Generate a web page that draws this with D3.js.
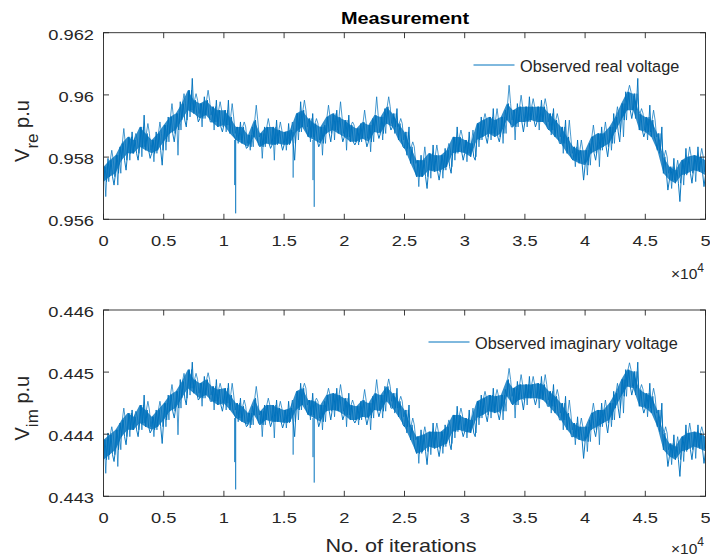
<!DOCTYPE html>
<html>
<head>
<meta charset="utf-8">
<script src="https://cdn.jsdelivr.net/npm/d3@7"></script>
<style>
  html, body { margin: 0; padding: 0; background: #fff; }
  svg { display: block; }
  text { font-family: "Liberation Sans", Arial, Helvetica, sans-serif; }
</style>
</head>
<body>
<svg id="chart" width="710" height="559"></svg>
<script>
// ---------------- DATA ----------------
const iterStep = 500;               // samples every 500 iterations, 0..50000
const xTickValues = [0, 5000, 10000, 15000, 20000, 25000, 30000, 35000, 40000, 45000, 50000];
const reTickValues = [0.956, 0.958, 0.96, 0.962];
const imTickValues = [0.443, 0.444, 0.445, 0.446];

// Real voltage: dense core band (lo/hi) and outer noise extremes (lo/hi)
const reCoreHi = [0.95769,0.95790,0.95806,0.95844,0.95865,0.95855,0.95897,0.95876,0.95855,0.95876,
0.95903,0.95929,0.95940,0.95972,0.96015,0.95983,0.95972,0.95983,0.95962,0.95951,
0.95951,0.95929,0.95897,0.95897,0.95871,0.95919,0.95876,0.95897,0.95897,0.95887,
0.95881,0.95887,0.95940,0.95951,0.95924,0.95908,0.95897,0.95929,0.95940,0.95929,
0.95919,0.95903,0.95892,0.95913,0.95903,0.95935,0.95929,0.95962,0.95940,0.95908,
0.95881,0.95833,0.95790,0.95790,0.95812,0.95806,0.95806,0.95822,0.95865,0.95865,
0.95855,0.95844,0.95908,0.95919,0.95929,0.95919,0.95929,0.95972,0.95951,0.95962,
0.95962,0.95962,0.95962,0.95962,0.95940,0.95919,0.95897,0.95865,0.95833,0.95822,
0.95822,0.95865,0.95876,0.95876,0.95897,0.95929,0.95972,0.96010,0.96004,0.95940,
0.95929,0.95919,0.95876,0.95801,0.95769,0.95758,0.95790,0.95801,0.95806,0.95801,
0.95790];
const reCoreLo = [0.95721,0.95737,0.95748,0.95790,0.95812,0.95812,0.95833,0.95822,0.95812,0.95822,
0.95849,0.95876,0.95887,0.95919,0.95951,0.95940,0.95924,0.95935,0.95913,0.95897,
0.95903,0.95876,0.95855,0.95844,0.95833,0.95865,0.95833,0.95844,0.95839,0.95844,
0.95839,0.95844,0.95881,0.95897,0.95865,0.95855,0.95844,0.95876,0.95887,0.95876,
0.95865,0.95849,0.95849,0.95860,0.95849,0.95881,0.95876,0.95908,0.95897,0.95855,
0.95828,0.95780,0.95737,0.95737,0.95758,0.95753,0.95758,0.95769,0.95812,0.95817,
0.95812,0.95801,0.95855,0.95865,0.95876,0.95865,0.95876,0.95919,0.95897,0.95913,
0.95913,0.95919,0.95913,0.95913,0.95887,0.95865,0.95844,0.95812,0.95790,0.95780,
0.95774,0.95812,0.95822,0.95833,0.95844,0.95881,0.95919,0.95951,0.95951,0.95887,
0.95881,0.95865,0.95822,0.95748,0.95726,0.95716,0.95742,0.95748,0.95758,0.95753,
0.95742];
const reExtHi = [0.95796,0.95822,0.95833,0.95892,0.95881,0.95876,0.95935,0.95908,0.95881,0.95913,
0.95929,0.95972,0.95978,0.96004,0.96053,0.96004,0.95994,0.96015,0.95983,0.95978,
0.95983,0.95972,0.95913,0.95913,0.95897,0.95967,0.95897,0.95924,0.95919,0.95913,
0.95908,0.95913,0.95978,0.95983,0.95940,0.95924,0.95903,0.95967,0.95951,0.95978,
0.95935,0.95913,0.95908,0.95951,0.95924,0.95994,0.95956,0.95994,0.95956,0.95924,
0.95897,0.95849,0.95806,0.95833,0.95839,0.95839,0.95828,0.95844,0.95897,0.95887,
0.95881,0.95887,0.95929,0.95940,0.95956,0.95956,0.95951,0.96031,0.95972,0.95999,
0.95994,0.95988,0.95983,0.95988,0.95956,0.95940,0.95919,0.95919,0.95855,0.95855,
0.95844,0.95903,0.95897,0.95913,0.95940,0.95962,0.96010,0.96031,0.96053,0.95956,
0.95967,0.95951,0.95897,0.95822,0.95796,0.95790,0.95828,0.95833,0.95833,0.95828,
0.95812];
const reExtLo = [0.95673,0.95710,0.95710,0.95758,0.95790,0.95790,0.95801,0.95796,0.95785,0.95774,
0.95822,0.95849,0.95806,0.95897,0.95929,0.95913,0.95897,0.95913,0.95887,0.95881,
0.95881,0.95865,0.95844,0.95828,0.95822,0.95839,0.95796,0.95828,0.95790,0.95822,
0.95822,0.95790,0.95855,0.95881,0.95849,0.95833,0.95806,0.95849,0.95855,0.95849,
0.95822,0.95839,0.95839,0.95833,0.95817,0.95860,0.95855,0.95887,0.95876,0.95833,
0.95806,0.95758,0.95705,0.95699,0.95732,0.95726,0.95732,0.95748,0.95790,0.95790,
0.95785,0.95790,0.95833,0.95844,0.95855,0.95849,0.95844,0.95897,0.95855,0.95881,
0.95897,0.95897,0.95887,0.95892,0.95871,0.95844,0.95812,0.95796,0.95769,0.95726,
0.95742,0.95790,0.95769,0.95801,0.95822,0.95849,0.95865,0.95924,0.95924,0.95865,
0.95855,0.95849,0.95812,0.95694,0.95699,0.95657,0.95710,0.95716,0.95721,0.95705,
0.95716];
const reSpikeIter = [10900, 10980, 15750, 17400, 17500];
const reSpikeVal  = [0.95710, 0.95619, 0.95734, 0.95726, 0.95640];

// Imaginary voltage
const imCoreHi = [0.44391,0.44399,0.44407,0.44423,0.44434,0.44428,0.44447,0.44439,0.44428,0.44439,
0.44450,0.44463,0.44469,0.44485,0.44504,0.44488,0.44482,0.44488,0.44477,0.44472,
0.44474,0.44463,0.44450,0.44445,0.44434,0.44458,0.44437,0.44447,0.44447,0.44442,
0.44439,0.44442,0.44469,0.44474,0.44455,0.44453,0.44447,0.44463,0.44466,0.44463,
0.44458,0.44447,0.44445,0.44455,0.44450,0.44466,0.44463,0.44477,0.44466,0.44453,
0.44439,0.44415,0.44396,0.44399,0.44404,0.44404,0.44404,0.44412,0.44431,0.44431,
0.44426,0.44423,0.44453,0.44458,0.44463,0.44461,0.44463,0.44488,0.44474,0.44480,
0.44480,0.44480,0.44482,0.44480,0.44469,0.44461,0.44450,0.44434,0.44418,0.44412,
0.44412,0.44434,0.44439,0.44439,0.44450,0.44466,0.44488,0.44504,0.44501,0.44472,
0.44466,0.44461,0.44439,0.44402,0.44385,0.44380,0.44396,0.44402,0.44404,0.44402,
0.44396];
const imCoreLo = [0.44359,0.44367,0.44375,0.44396,0.44407,0.44407,0.44418,0.44412,0.44407,0.44412,
0.44423,0.44437,0.44442,0.44458,0.44474,0.44466,0.44458,0.44463,0.44453,0.44447,
0.44450,0.44439,0.44426,0.44420,0.44415,0.44431,0.44415,0.44423,0.44420,0.44420,
0.44418,0.44420,0.44439,0.44447,0.44431,0.44426,0.44420,0.44437,0.44439,0.44437,
0.44431,0.44423,0.44423,0.44428,0.44426,0.44439,0.44437,0.44453,0.44442,0.44428,
0.44412,0.44391,0.44369,0.44372,0.44380,0.44377,0.44380,0.44385,0.44404,0.44407,
0.44404,0.44402,0.44426,0.44431,0.44437,0.44434,0.44437,0.44461,0.44447,0.44455,
0.44458,0.44458,0.44458,0.44455,0.44445,0.44434,0.44423,0.44407,0.44396,0.44391,
0.44388,0.44407,0.44412,0.44418,0.44423,0.44442,0.44461,0.44477,0.44474,0.44445,
0.44442,0.44434,0.44412,0.44375,0.44364,0.44359,0.44372,0.44375,0.44380,0.44377,
0.44372];
const imExtHi = [0.44402,0.44412,0.44418,0.44442,0.44439,0.44437,0.44463,0.44453,0.44439,0.44453,
0.44463,0.44480,0.44488,0.44498,0.44516,0.44498,0.44493,0.44499,0.44488,0.44482,
0.44482,0.44482,0.44458,0.44455,0.44445,0.44477,0.44447,0.44458,0.44455,0.44453,
0.44453,0.44455,0.44482,0.44482,0.44466,0.44458,0.44453,0.44474,0.44474,0.44480,
0.44466,0.44455,0.44453,0.44472,0.44461,0.44488,0.44477,0.44489,0.44474,0.44461,
0.44447,0.44426,0.44407,0.44412,0.44418,0.44418,0.44415,0.44423,0.44445,0.44442,
0.44439,0.44442,0.44463,0.44469,0.44474,0.44472,0.44472,0.44506,0.44485,0.44496,
0.44493,0.44493,0.44493,0.44496,0.44480,0.44472,0.44461,0.44455,0.44428,0.44426,
0.44423,0.44450,0.44450,0.44455,0.44469,0.44482,0.44504,0.44515,0.44516,0.44480,
0.44482,0.44474,0.44450,0.44412,0.44399,0.44396,0.44415,0.44418,0.44415,0.44412,
0.44407];
const imExtLo = [0.44337,0.44356,0.44348,0.44383,0.44396,0.44396,0.44407,0.44402,0.44396,0.44385,
0.44412,0.44426,0.44399,0.44447,0.44463,0.44455,0.44445,0.44453,0.44439,0.44437,
0.44439,0.44431,0.44420,0.44412,0.44410,0.44418,0.44396,0.44412,0.44394,0.44410,
0.44410,0.44396,0.44423,0.44437,0.44423,0.44412,0.44407,0.44423,0.44428,0.44423,
0.44412,0.44418,0.44415,0.44415,0.44407,0.44428,0.44426,0.44442,0.44434,0.44415,
0.44402,0.44377,0.44353,0.44351,0.44367,0.44364,0.44369,0.44375,0.44394,0.44396,
0.44394,0.44396,0.44415,0.44420,0.44426,0.44423,0.44423,0.44450,0.44426,0.44439,
0.44447,0.44447,0.44442,0.44445,0.44434,0.44423,0.44407,0.44396,0.44383,0.44361,
0.44372,0.44396,0.44383,0.44402,0.44412,0.44426,0.44434,0.44463,0.44463,0.44434,
0.44428,0.44426,0.44404,0.44348,0.44351,0.44332,0.44356,0.44359,0.44361,0.44353,
0.44359];
const imSpikeIter = [10900, 10980, 15750, 17400, 17500];
const imSpikeVal  = [0.44355, 0.44311, 0.44367, 0.44363, 0.44322];

// ---------------- DRAWING ----------------
const svg = d3.select("#chart");
const BLUE = "#0072BD", AX = "#262626";
const left = 103.5, right = 705.5;
const x = d3.scaleLinear().domain([0, 50000]).range([left, right]);

function stretchedText(g, px, py, str, size, anchor, sx, weight) {
  const t = g.append("text")
    .attr("transform", `translate(${px},${py}) scale(${sx},1)`)
    .attr("text-anchor", anchor)
    .attr("font-size", size)
    .attr("fill", AX)
    .text(str);
  if (weight) t.attr("font-weight", weight).attr("fill", "#000");
  return t;
}

function panel(cfg) {
  const y = d3.scaleLinear().domain(cfg.domain).range([cfg.bottom, cfg.top]);
  const g = svg.append("g");
  const clipId = "clip" + cfg.id;
  svg.append("clipPath").attr("id", clipId).append("rect")
    .attr("x", left).attr("y", cfg.top).attr("width", right - left).attr("height", cfg.bottom - cfg.top);

  const data = g.append("g").attr("clip-path", `url(#${clipId})`);
  const idx = d3.range(cfg.coreHi.length);

  // core fill
  data.append("path")
    .attr("d", d3.area().x(i => x(i * iterStep)).y0(i => y(cfg.coreLo[i])).y1(i => y(cfg.coreHi[i]))(idx))
    .attr("fill", BLUE).attr("fill-opacity", 0.8);

  // the measured signal: dense oscillation inside the core band, with
  // excursions to the read extremes (alternately up and down)
  const pts = [];
  const q = iterStep / 4;
  idx.forEach(i => {
    const x0 = i * iterStep;
    pts.push([x0, cfg.coreLo[i]]);
    pts.push([x0 + q, cfg.coreHi[i]]);
    pts.push([x0 + 2 * q, cfg.coreLo[i]]);
    pts.push([x0 + 3 * q, i % 2 === 0 ? cfg.extHi[i] : cfg.extLo[i]]);
  });
  data.append("path")
    .attr("d", d3.line().x(d => x(d[0])).y(d => y(d[1]))(pts))
    .attr("fill", "none").attr("stroke", BLUE).attr("stroke-width", 0.95).attr("stroke-linejoin", "bevel");

  // second pass: the opposite extremes, offset
  const pts2 = [];
  idx.forEach(i => {
    const x0 = i * iterStep + iterStep / 8;
    pts2.push([x0, cfg.coreHi[i]]);
    pts2.push([x0 + q, i % 2 === 0 ? cfg.extLo[i] : cfg.extHi[i]]);
    pts2.push([x0 + 2 * q, cfg.coreHi[i]]);
    pts2.push([x0 + 3 * q, cfg.coreLo[i]]);
  });
  data.append("path")
    .attr("d", d3.line().x(d => x(d[0])).y(d => y(d[1]))(pts2))
    .attr("fill", "none").attr("stroke", BLUE).attr("stroke-width", 0.8).attr("stroke-opacity", 0.9)
    .attr("stroke-linejoin", "bevel");

  // downward spikes
  cfg.spikeIter.forEach((it, j) => {
    const k = Math.round(it / iterStep);
    data.append("path")
      .attr("d", d3.line()([[x(it), y(cfg.coreLo[k])], [x(it), y(cfg.spikeVal[j])]]))
      .attr("stroke", BLUE).attr("stroke-width", 1).attr("fill", "none");
  });

  // box
  g.append("rect").attr("x", left).attr("y", cfg.top).attr("width", right - left).attr("height", cfg.bottom - cfg.top)
    .attr("fill", "none").attr("stroke", AX).attr("stroke-width", 0.9);

  // ticks (inward on all sides)
  const tl = 5.5;
  xTickValues.forEach(t => {
    const px = x(t);
    g.append("line").attr("x1", px).attr("x2", px).attr("y1", cfg.bottom).attr("y2", cfg.bottom - tl).attr("stroke", AX).attr("stroke-width", 0.9);
    g.append("line").attr("x1", px).attr("x2", px).attr("y1", cfg.top).attr("y2", cfg.top + tl).attr("stroke", AX).attr("stroke-width", 0.9);
    stretchedText(g, px, cfg.bottom + 27, String(t / 1e4), 15.5, "middle", 1.18);
  });
  cfg.ticks.forEach(t => {
    const py = y(t);
    g.append("line").attr("x1", left).attr("x2", left + tl).attr("y1", py).attr("y2", py).attr("stroke", AX).attr("stroke-width", 0.9);
    g.append("line").attr("x1", right).attr("x2", right - tl).attr("y1", py).attr("y2", py).attr("stroke", AX).attr("stroke-width", 0.9);
    stretchedText(g, 94, py + 7, String(+t.toFixed(3)), 15.5, "end", 1.18);
  });

  // x10^4 exponent
  const ex = g.append("text").attr("x", 704).attr("y", cfg.expY).attr("text-anchor", "end")
    .attr("font-size", 15.5).attr("fill", AX);
  ex.append("tspan").text("\u00D710");
  ex.append("tspan").attr("font-size", 12).attr("dy", -7.5).text("4");

  // y label with subscript
  const cy = (cfg.top + cfg.bottom) / 2 + 5;
  const yl = g.append("text").attr("transform", `translate(28.5,${cy}) rotate(-90)`)
    .attr("text-anchor", "middle").attr("font-size", 20).attr("fill", AX);
  yl.append("tspan").text("V");
  yl.append("tspan").attr("font-size", 17).attr("dy", 9).text(cfg.sub);
  yl.append("tspan").attr("dy", -9).text(" p.u");

  // legend
  g.append("line").attr("x1", cfg.legX).attr("x2", cfg.legX + 41).attr("y1", cfg.legY).attr("y2", cfg.legY)
    .attr("stroke", BLUE).attr("stroke-width", 1);
  g.append("text").attr("x", cfg.legX + 46.5).attr("y", cfg.legY + 6.5).attr("font-size", 16.3).attr("fill", AX)
    .text(cfg.legend);
}

panel({ id: "re", domain: [0.956, 0.962], top: 32.7, bottom: 219.3, ticks: reTickValues,
  coreHi: reCoreHi, coreLo: reCoreLo, extHi: reExtHi, extLo: reExtLo,
  spikeIter: reSpikeIter, spikeVal: reSpikeVal, sub: "re", expY: 279,
  legX: 473.5, legY: 65, legend: "Observed real voltage" });

panel({ id: "im", domain: [0.443, 0.446], top: 310, bottom: 496.3, ticks: imTickValues,
  coreHi: imCoreHi, coreLo: imCoreLo, extHi: imExtHi, extLo: imExtLo,
  spikeIter: imSpikeIter, spikeVal: imSpikeVal, sub: "im", expY: 553.5,
  legX: 428.5, legY: 342, legend: "Observed imaginary voltage" });

// title and x label
stretchedText(svg, 405, 24, "Measurement", 17, "middle", 1.17, "bold");
stretchedText(svg, 401, 552, "No. of iterations", 18, "middle", 1.2);
</script>
</body>
</html>
